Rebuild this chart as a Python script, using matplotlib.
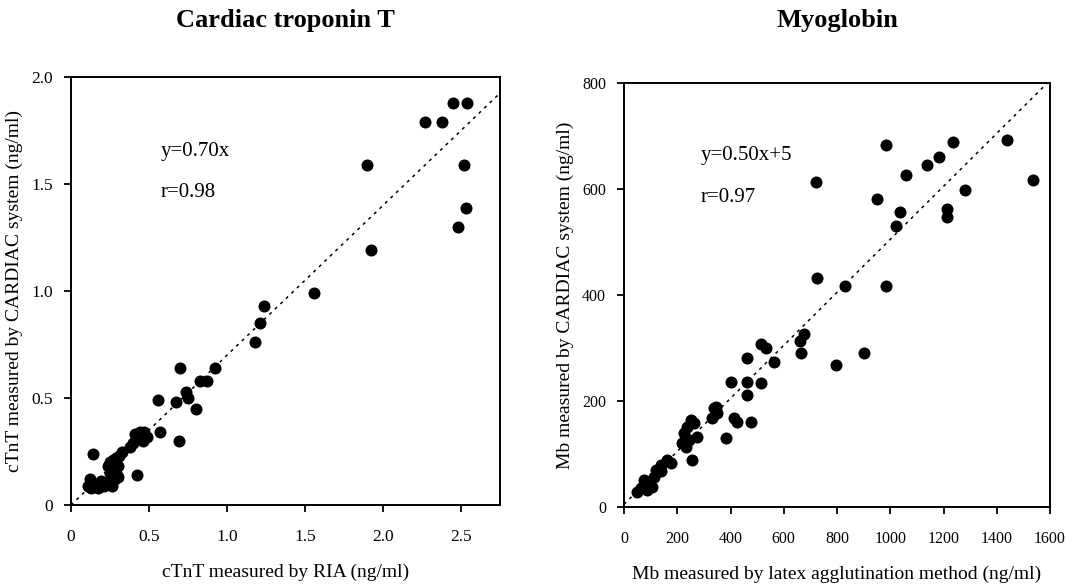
import matplotlib
matplotlib.use("Agg")
import matplotlib.pyplot as plt
import numpy as np

plt.rcParams['font.family'] = ['Liberation Serif', 'DejaVu Serif']

# ---- Cardiac troponin T data (ng/ml) ----
tnt_ria = [2.45, 2.54, 2.27, 2.38, 1.90, 2.52, 2.53, 2.48, 1.92, 1.56,
           1.24, 1.21, 1.18, 0.92, 0.70,
           0.83, 0.87, 0.74, 0.75, 0.67, 0.56, 0.80, 0.57, 0.69,
           0.44, 0.47, 0.41, 0.49, 0.40, 0.46, 0.38, 0.33,
           0.29, 0.31, 0.27, 0.25, 0.30, 0.24, 0.27, 0.25,
           0.14, 0.42,
           0.12, 0.15, 0.19, 0.22, 0.25, 0.28, 0.30, 0.13, 0.17, 0.21,
           0.26, 0.29, 0.11]
tnt_cardiac = [1.88, 1.88, 1.79, 1.79, 1.59, 1.59, 1.39, 1.30, 1.19, 0.99,
               0.93, 0.85, 0.76, 0.64, 0.64,
               0.58, 0.58, 0.53, 0.50, 0.48, 0.49, 0.45, 0.34, 0.30,
               0.34, 0.34, 0.33, 0.32, 0.29, 0.30, 0.27, 0.25,
               0.22, 0.23, 0.21, 0.20, 0.18, 0.18, 0.16, 0.15,
               0.24, 0.14,
               0.12, 0.10, 0.11, 0.10, 0.11, 0.12, 0.13, 0.08, 0.08, 0.09,
               0.09, 0.15, 0.09]
tnt_slope = 0.70
tnt_xlim = (0, 2.75)
tnt_ylim = (0, 2.0)
tnt_xticks = [0, 0.5, 1.0, 1.5, 2.0, 2.5]
tnt_xticklabels = ['0', '0.5', '1.0', '1.5', '2.0', '2.5']
tnt_yticks = [0, 0.5, 1.0, 1.5, 2.0]
tnt_yticklabels = ['0', '0.5', '1.0', '1.5', '2.0']

# ---- Myoglobin data (ng/ml) ----
mb_latex = [983, 1234, 1440, 1183, 1138, 1060, 720, 1536, 1279, 951,
            1035, 1215, 1215, 1022, 726, 829, 983, 675, 662, 665,
            902, 797,
            514, 533, 462, 564, 402, 462, 515, 462,
            338, 350, 331, 346, 414, 425, 477, 383,
            252, 237, 226, 244, 263, 274, 218, 233,
            256, 162, 139, 177, 120,
            75, 94, 113, 64, 86, 105, 49, 124, 139]
mb_cardiac = [683, 689, 693, 661, 645, 626, 614, 617, 598, 582,
              557, 563, 547, 531, 433, 417, 417, 326, 313, 290,
              290, 268,
              307, 300, 281, 274, 236, 236, 234, 211,
              187, 177, 168, 189, 168, 160, 160, 130,
              164, 151, 140, 126, 158, 132, 121, 113,
              89, 89, 79, 83, 70,
              51, 45, 57, 36, 32, 38, 28, 66, 68]
mb_slope = 0.50
mb_intercept = 5
mb_xlim = (0, 1600)
mb_ylim = (0, 800)
mb_xticks = [0, 200, 400, 600, 800, 1000, 1200, 1400, 1600]
mb_yticks = [0, 200, 400, 600, 800]

W, H = 1067, 588
fig = plt.figure(figsize=(W / 100, H / 100), dpi=100)

def px_axes(l, t, r, b):
    return fig.add_axes([l / W, 1 - b / H, (r - l) / W, (b - t) / H])

ax1 = px_axes(71, 77, 500, 505)
ax2 = px_axes(624, 83, 1050, 507)

def style(ax, fs):
    for s in ax.spines.values():
        s.set_linewidth(1.4)
        s.set_color('black')
    ax.tick_params(direction='out', length=5, width=1.3, labelsize=fs)
    ax.tick_params(axis='x', pad=12)
    ax.tick_params(axis='y', pad=8)

# Left panel
ax1.scatter(tnt_ria, tnt_cardiac, s=75, c='black', marker='o', zorder=3, linewidths=0)
xl = np.array(tnt_xlim)
ax1.plot(xl, tnt_slope * xl, color='black', lw=1.1, linestyle=(0, (2, 3)))
ax1.set_xlim(*tnt_xlim)
ax1.set_ylim(*tnt_ylim)
ax1.set_xticks(tnt_xticks)
ax1.set_xticklabels(tnt_xticklabels)
ax1.set_yticks(tnt_yticks)
ax1.set_yticklabels(tnt_yticklabels)
ax1.set_xlabel('cTnT measured by RIA (ng/ml)', fontsize=14, labelpad=14)
ax1.set_ylabel('cTnT measured by CARDIAC system (ng/ml)', fontsize=14, labelpad=6)
ax1.text(0.21, 0.825, 'y=0.70x', transform=ax1.transAxes, fontsize=15, va='center')
ax1.text(0.21, 0.73, 'r=0.98', transform=ax1.transAxes, fontsize=15, va='center')
style(ax1, 12.5)

# Right panel
ax2.scatter(mb_latex, mb_cardiac, s=75, c='black', marker='o', zorder=3, linewidths=0)
xl2 = np.array(mb_xlim)
ax2.plot(xl2, mb_slope * xl2 + mb_intercept, color='black', lw=1.1, linestyle=(0, (2, 3)))
ax2.set_xlim(*mb_xlim)
ax2.set_ylim(*mb_ylim)
ax2.set_xticks(mb_xticks)
ax2.set_yticks(mb_yticks)
ax2.set_xlabel('Mb measured by latex agglutination method (ng/ml)', fontsize=14, labelpad=14)
ax2.set_ylabel('Mb measured by CARDIAC system (ng/ml)', fontsize=14, labelpad=6)
ax2.text(0.18, 0.83, 'y=0.50x+5', transform=ax2.transAxes, fontsize=15, va='center')
ax2.text(0.18, 0.73, 'r=0.97', transform=ax2.transAxes, fontsize=15, va='center')
style(ax2, 11.5)

fig.text((71 + 500) / 2 / W, 1 - 21 / H, 'Cardiac troponin T', fontsize=19,
         fontweight='bold', ha='center', va='center')
fig.text((624 + 1050) / 2 / W, 1 - 21 / H, 'Myoglobin', fontsize=19,
         fontweight='bold', ha='center', va='center')

fig.savefig('out.png', dpi=100)
